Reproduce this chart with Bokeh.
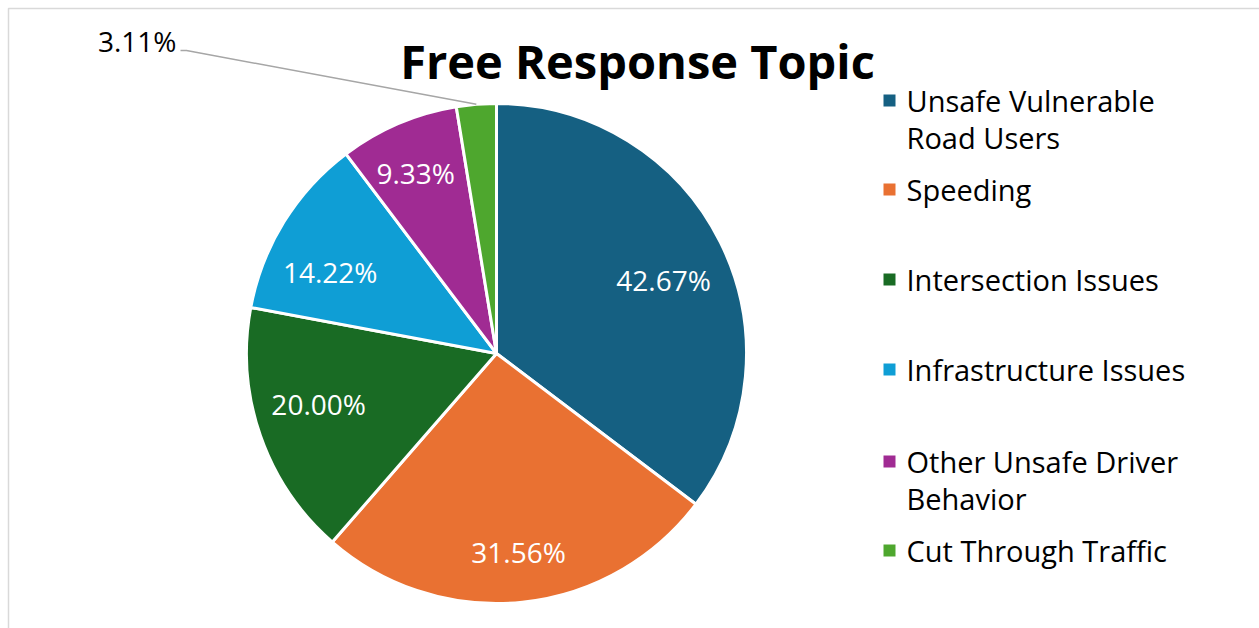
import numpy as np
from bokeh.plotting import figure
from bokeh.models import Range1d, ColumnDataSource
from bokeh.core.properties import value
from bokeh.embed import file_html
from bokeh.resources import INLINE

# ---- data ----
categories = ["Unsafe Vulnerable Road Users", "Speeding", "Intersection Issues",
              "Infrastructure Issues", "Other Unsafe Driver Behavior", "Cut Through Traffic"]
legend_lines = [["Unsafe Vulnerable", "Road Users"], ["Speeding"], ["Intersection Issues"],
                ["Infrastructure Issues"], ["Other Unsafe Driver", "Behavior"], ["Cut Through Traffic"]]
percent = [42.67, 31.56, 20.00, 14.22, 9.33, 3.11]
labels = ["42.67%", "31.56%", "20.00%", "14.22%", "9.33%", "3.11%"]
colors = ["#156082", "#E97132", "#196B24", "#0F9ED5", "#A02B93", "#4EA72E"]
title = "Free Response Topic"

W, H = 1259, 628
FONT = "Open Sans"

def Y(py):
    return H - py

p = figure(width=W, height=H, x_range=Range1d(0, W), y_range=Range1d(0, H),
           output_backend="svg", toolbar_location=None, min_border=0)
p.axis.visible = False
p.grid.visible = False
p.outline_line_color = None
p.background_fill_color = "white"
p.border_fill_color = "white"

# chart frame (top and left edges visible)
p.line(x=[8, 8, W + 5], y=[Y(H + 5), Y(8), Y(8)], line_color="#D9D9D9", line_width=1.5)

# pie
cx, cy, r = 496, Y(353), 250
vals = np.array(percent)
frac = vals / vals.sum()
cum = np.concatenate([[0], np.cumsum(frac)])
start = np.pi / 2 - cum[:-1] * 2 * np.pi
end = np.pi / 2 - cum[1:] * 2 * np.pi
src = ColumnDataSource(dict(start=start, end=end, color=colors, cat=categories))
p.wedge(x=cx, y=cy, radius=r, start_angle="start", end_angle="end", direction="clock",
        fill_color="color", line_color="white", line_width=3, source=src)

# inside labels (placed near each slice's mid angle)
mid = (start + end) / 2
lab_da = np.radians([-2.7, 0.4, -3.2, 5.8, 1.0])
lab_r = [0.73, 0.80, 0.74, 0.74, 0.79]
ang = mid[:5] + lab_da
lx = [cx + r * f * np.cos(a) for f, a in zip(lab_r, ang)]
ly = [cy + r * f * np.sin(a) for f, a in zip(lab_r, ang)]
p.text(x=lx, y=ly, text=labels[:5], text_color="white", text_font=value(FONT),
       text_font_size="28px", text_align="center", text_baseline="middle")

# outside label with leader line
m = mid[5]
ex, ey = cx + r * np.cos(m), cy + r * np.sin(m)
p.line(x=[ex, 186, 180], y=[ey, Y(50), Y(50)], line_color="#A6A6A6", line_width=1.5)
p.text(x=[176], y=[Y(40)], text=[labels[5]], text_color="black", text_font=value(FONT),
       text_font_size="28px", text_align="right", text_baseline="middle")

# title
p.text(x=[637], y=[Y(60)], text=[title], text_color="black", text_font=value(FONT),
       text_font_style="bold", text_font_size="47px", text_align="center",
       text_baseline="middle")

# legend
row_y = [100, 189, 279, 369, 461, 550]
line_gap = 37
sq_x = [889] * len(colors)
sq_y = [Y(v) for v in row_y]
p.rect(x=sq_x, y=sq_y, width=12, height=12, fill_color=colors, line_color=None)
tx, ty, tt = [], [], []
for ry, lines in zip(row_y, legend_lines):
    for k, t in enumerate(lines):
        tx.append(906)
        ty.append(Y(ry + k * line_gap))
        tt.append(t)
p.text(x=tx, y=ty, text=tt, text_color="black", text_font=value(FONT),
       text_font_size="29px", text_align="left", text_baseline="middle")

open("out.html", "w").write(file_html(p, INLINE))
